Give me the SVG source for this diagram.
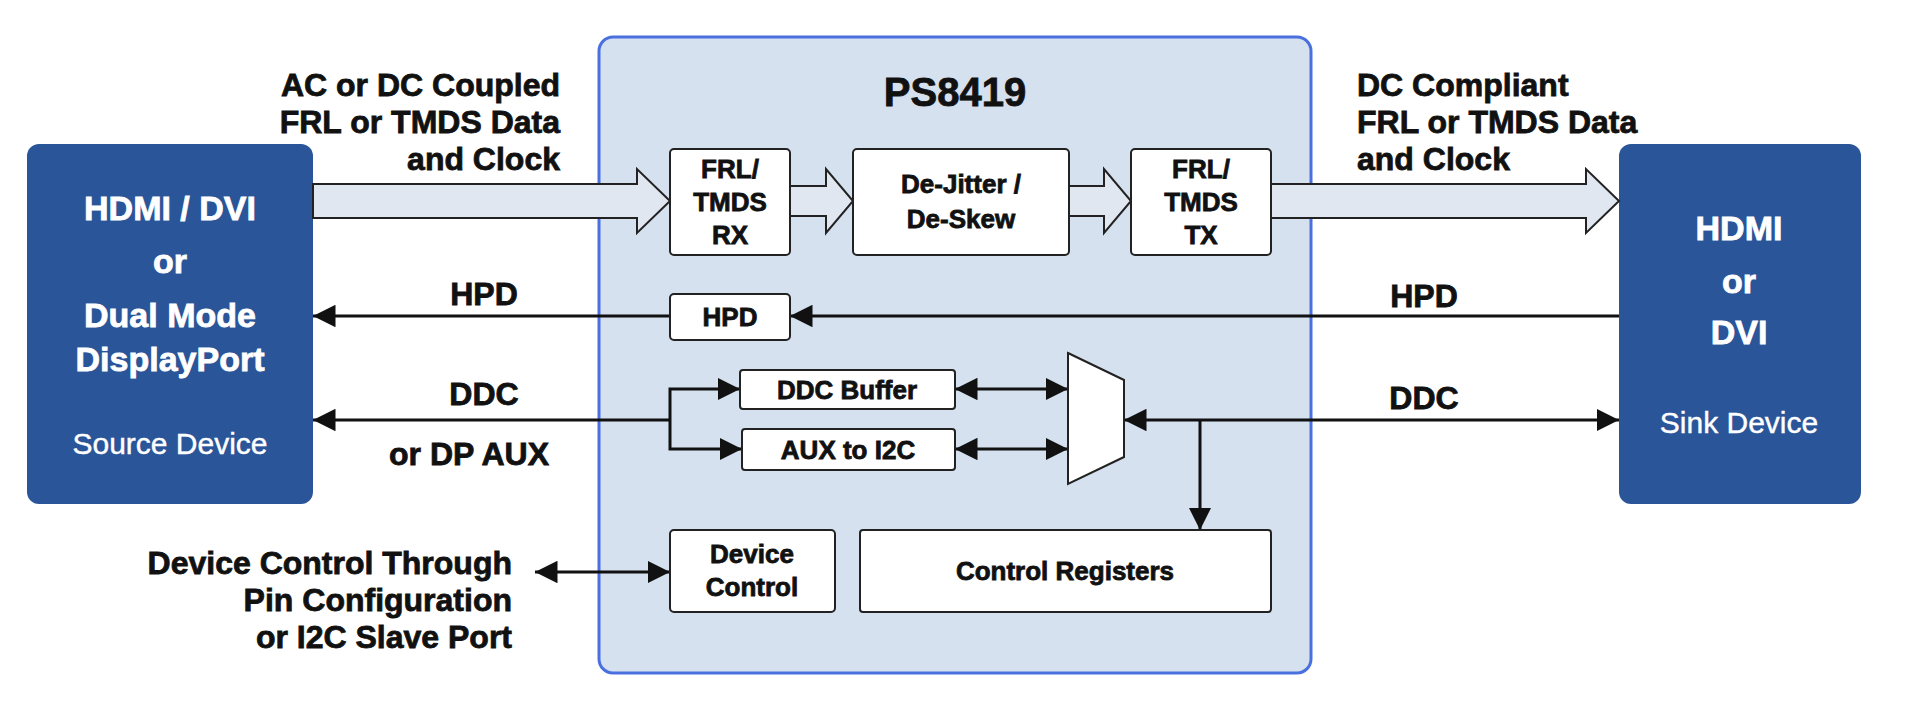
<svg xmlns="http://www.w3.org/2000/svg" width="1920" height="715" viewBox="0 0 1920 715">
<style>
text{font-family:"Liberation Sans",Arial,sans-serif;font-weight:bold;fill:#111;stroke:#111;stroke-width:0.8}
.w{fill:#fff;stroke:#fff}
.blk{font-size:32px}
.sm{font-size:26px}
.big{font-size:34px}
.nrm{font-size:30px;font-weight:normal;stroke-width:0.4}
.ext{fill:#2a5599}
.box{fill:#fff;stroke:#222;stroke-width:2}
.ln{stroke:#111;stroke-width:3;fill:none}
.fat{fill:#e1e7f1;stroke:#222;stroke-width:2}
</style>
<defs>
<marker id="ah" viewBox="0 0 10 10" refX="10" refY="5" markerWidth="7.5" markerHeight="7.5" orient="auto-start-reverse"><path d="M0,0L10,5L0,10z" fill="#111"/></marker>
</defs>
<rect width="1920" height="715" fill="#fff"/>
<g id="chip"><rect x="599" y="37" width="712" height="636" rx="14" fill="#d5e1ee" stroke="#4a70e0" stroke-width="3"/>
<text x="955" y="106" text-anchor="middle" font-size="40">PS8419</text></g>
<g id="source"><rect class="ext" x="27" y="144" width="286" height="360" rx="12"/>
<text class="w big" x="170" y="220" text-anchor="middle">HDMI / DVI</text>
<text class="w big" x="170" y="273" text-anchor="middle">or</text>
<text class="w big" x="170" y="327" text-anchor="middle">Dual Mode</text>
<text class="w big" x="170" y="371" text-anchor="middle">DisplayPort</text>
<text class="w nrm" x="170" y="454" text-anchor="middle">Source Device</text></g>
<g id="sink"><rect class="ext" x="1619" y="144" width="242" height="360" rx="12"/>
<text class="w big" x="1739" y="240" text-anchor="middle">HDMI</text>
<text class="w big" x="1739" y="293" text-anchor="middle">or</text>
<text class="w big" x="1739" y="344" text-anchor="middle">DVI</text>
<text class="w nrm" x="1739" y="433" text-anchor="middle">Sink Device</text></g>
<g id="connectors">
<path class="fat" d="M313,184H637V169L670,201L637,233V218H313z"/>
<path class="fat" d="M790,186H826V169L853,201L826,233V216H790z"/>
<path class="fat" d="M1069,186H1104V169L1131,201L1104,233V216H1069z"/>
<path class="fat" d="M1271,184H1586V169L1619,201L1586,233V218H1271z"/>
<line class="ln" x1="1619" y1="316" x2="790" y2="316" marker-end="url(#ah)"/>
<line class="ln" x1="670" y1="316" x2="313" y2="316" marker-end="url(#ah)"/>
<line class="ln" x1="670" y1="420" x2="313" y2="420" marker-end="url(#ah)"/>
<path class="ln" d="M670,420V389H740" marker-end="url(#ah)"/>
<path class="ln" d="M670,420V449H742" marker-end="url(#ah)"/>
<line class="ln" x1="955" y1="389" x2="1068" y2="389" marker-start="url(#ah)" marker-end="url(#ah)"/>
<line class="ln" x1="955" y1="449" x2="1068" y2="449" marker-start="url(#ah)" marker-end="url(#ah)"/>
<line class="ln" x1="1124" y1="420" x2="1619" y2="420" marker-start="url(#ah)" marker-end="url(#ah)"/>
<line class="ln" x1="1200" y1="420" x2="1200" y2="530" marker-end="url(#ah)"/>
<line class="ln" x1="535" y1="572" x2="670" y2="572" marker-start="url(#ah)" marker-end="url(#ah)"/>
</g>
<g id="rx"><rect class="box" x="670" y="149" width="120" height="106" rx="4"/>
<text class="sm" x="730" y="178" text-anchor="middle">FRL/</text><text class="sm" x="730" y="211" text-anchor="middle">TMDS</text><text class="sm" x="730" y="244" text-anchor="middle">RX</text></g>
<g id="dejitter"><rect class="box" x="853" y="149" width="216" height="106" rx="4"/>
<text class="sm" x="961" y="193" text-anchor="middle">De-Jitter /</text><text class="sm" x="961" y="228" text-anchor="middle">De-Skew</text></g>
<g id="tx"><rect class="box" x="1131" y="149" width="140" height="106" rx="4"/>
<text class="sm" x="1201" y="178" text-anchor="middle">FRL/</text><text class="sm" x="1201" y="211" text-anchor="middle">TMDS</text><text class="sm" x="1201" y="244" text-anchor="middle">TX</text></g>
<g id="hpd"><rect class="box" x="670" y="294" width="120" height="46" rx="4"/><text class="sm" x="730" y="326" text-anchor="middle">HPD</text></g>
<g id="ddcbuf"><rect class="box" x="740" y="370" width="215" height="39" rx="3"/><text class="sm" x="847" y="399" text-anchor="middle">DDC Buffer</text></g>
<g id="aux"><rect class="box" x="742" y="429" width="213" height="41" rx="3"/><text class="sm" x="848" y="459" text-anchor="middle">AUX to I2C</text></g>
<g id="mux"><path class="box" d="M1068,353L1124,380V457L1068,484z"/></g>
<g id="devctl"><rect class="box" x="670" y="530" width="165" height="82" rx="4"/>
<text class="sm" x="752" y="563" text-anchor="middle">Device</text><text class="sm" x="752" y="596" text-anchor="middle">Control</text></g>
<g id="ctlreg"><rect class="box" x="860" y="530" width="411" height="82" rx="3"/><text class="sm" x="1065" y="580" text-anchor="middle">Control Registers</text></g>
<g id="labels">
<text class="blk" x="560" y="96" text-anchor="end">AC or DC Coupled</text>
<text class="blk" x="560" y="133" text-anchor="end">FRL or TMDS Data</text>
<text class="blk" x="560" y="170" text-anchor="end">and Clock</text>
<text class="blk" x="1357" y="96">DC Compliant</text>
<text class="blk" x="1357" y="133">FRL or TMDS Data</text>
<text class="blk" x="1357" y="170">and Clock</text>
<text class="blk" x="484" y="305" text-anchor="middle">HPD</text>
<text class="blk" x="1424" y="307" text-anchor="middle">HPD</text>
<text class="blk" x="484" y="405" text-anchor="middle">DDC</text>
<text class="blk" x="469" y="465" text-anchor="middle">or DP AUX</text>
<text class="blk" x="1424" y="409" text-anchor="middle">DDC</text>
<text class="blk" x="512" y="574" text-anchor="end">Device Control Through</text>
<text class="blk" x="512" y="611" text-anchor="end">Pin Configuration</text>
<text class="blk" x="512" y="648" text-anchor="end">or I2C Slave Port</text>
</g>
</svg>
